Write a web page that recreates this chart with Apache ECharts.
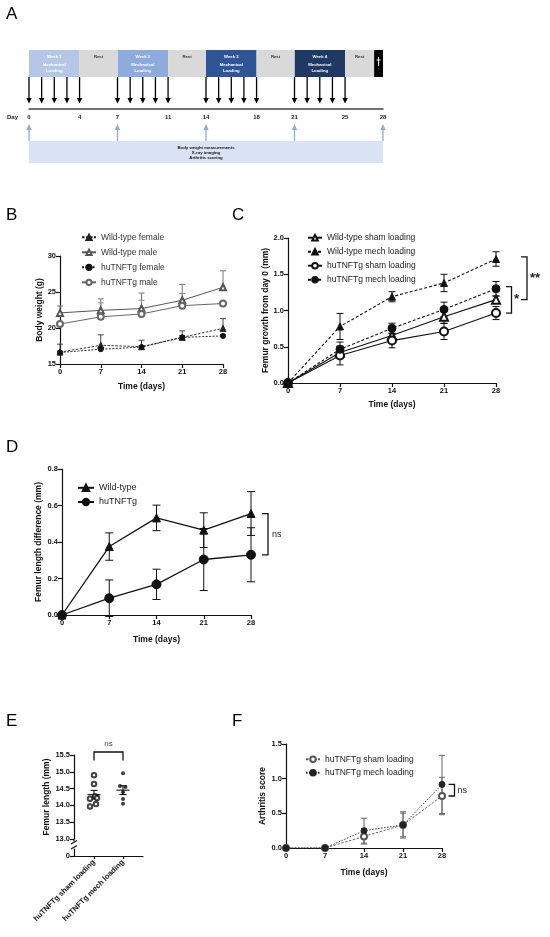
<!DOCTYPE html>
<html><head><meta charset="utf-8">
<script src="https://cdn.jsdelivr.net/npm/echarts@6/dist/echarts.min.js"></script>
<style>html,body{margin:0;padding:0;background:#fff}#c{width:550px;height:937px}</style>
</head><body><div id="c"></div>
<script>
// ---------- DATA ----------
const days = [0, 7, 14, 21, 28];

// Panel A: study schedule (days)
const weekLabels = ['Week 1', 'Week 2', 'Week 3', 'Week 4'];
const weekStart = [0, 7, 14, 21];
const weekEnd = [4, 11, 18, 25];
const restStart = [4, 11, 18, 25];
const restEnd = [7, 14, 21, 27.3];
const endpointSpan = [27.3, 28];
const loadingDays = [0, 1, 2, 3, 4, 7, 8, 9, 10, 11, 14, 15, 16, 17, 18, 21, 22, 23, 24, 25];
const measurementDays = [0, 7, 14, 21, 28];
const dayTicks = [0, 4, 7, 11, 14, 18, 21, 25, 28];
const measurementText = ['Body weight measurements', 'X-ray imaging', 'Arthritis scoring'];

// Panel B: body weight (g), mean and SEM
const bNames = ['Wild-type female', 'Wild-type male', 'huTNFTg female', 'huTNFTg male'];
const bWtFemale = [16.65, 17.6, 17.4, 18.7, 19.95];
const bWtFemaleSem = [1.1, 1.45, 0.9, 0.9, 1.35];
const bWtMale = [22.1, 22.45, 22.7, 23.85, 25.65];
const bWtMaleSem = [0.95, 1.6, 2.15, 2.2, 2.3];
const bTgFemale = [16.6, 17.05, 17.35, 18.7, 18.9];
const bTgFemaleSem = [0.2, 0.25, 0.2, 0.25, 0.2];
const bTgMale = [20.55, 21.55, 21.95, 23.1, 23.4];
const bTgMaleSem = [0.3, 1.95, 1.9, 1.7, 0.3];

// Panel C: femur growth from day 0 (mm)
const cNames = ['Wild-type sham loading', 'Wild-type mech loading', 'huTNFTg sham loading', 'huTNFTg mech loading'];
const cWtSham = [0, 0.42, 0.655, 0.915, 1.15];
const cWtShamSem = [0, 0.08, 0.07, 0.09, 0.05];
const cWtMech = [0, 0.78, 1.19, 1.38, 1.71];
const cWtMechSem = [0, 0.18, 0.07, 0.12, 0.1];
const cTgSham = [0, 0.38, 0.585, 0.71, 0.965];
const cTgShamSem = [0, 0.13, 0.1, 0.11, 0.09];
const cTgMech = [0, 0.465, 0.755, 1.015, 1.30];
const cTgMechSem = [0, 0.1, 0.07, 0.1, 0.1];

// Panel D: femur length difference (mm)
const dNames = ['Wild-type', 'huTNFTg'];
const dWt = [0, 0.375, 0.532, 0.465, 0.556];
const dWtSem = [0, 0.075, 0.07, 0.095, 0.12];
const dTg = [0, 0.092, 0.168, 0.304, 0.33];
const dTgSem = [0, 0.1, 0.083, 0.17, 0.148];

// Panel E: femur length (mm), individual animals
const eCategories = ['huTNFTg sham loading', 'huTNFTg mech loading'];
const eSham = [14.90, 14.64, 14.27, 14.20, 14.22, 13.97, 14.04];
const eMech = [14.96, 14.58, 14.55, 14.39, 14.19, 14.05];

// Panel F: arthritis score
const fNames = ['huTNFTg sham loading\u200B', 'huTNFTg mech loading\u200B'];
const fSham = [0, 0, 0.167, 0.333, 0.75];
const fShamSem = [0, 0, 0.11, 0.17, 0.27];
const fMech = [0, 0, 0.25, 0.333, 0.917];
const fMechSem = [0, 0, 0.18, 0.19, 0.42];

// ---------- STYLE / LAYOUT ----------
const FONT = '"Liberation Sans", Arial, Helvetica, sans-serif';
const weekColors = ['#b4c7e7', '#8faadc', '#2f5597', '#203864'];
const shamJitter = [0, 0, 1, -4, 3, -4, 2];
const mechJitter = [0, -3, 2.5, 0, 0, 0];

const chart = echarts.init(document.getElementById('c'), null, {renderer: 'canvas', width: 550, height: 937});

const axLine = {show: true, onZero: false, lineStyle: {color: '#111', width: 1.2}};
const axTick = {show: true, length: 4, lineStyle: {color: '#111', width: 1.2}};
const labStyle = {fontFamily: FONT, fontSize: 7.5, fontWeight: 'bold', color: '#111', margin: 4};
const nameStyle = {fontFamily: FONT, fontSize: 8.5, fontWeight: 'bold', color: '#111'};

function xTime(gridIndex, nameGap) {
  return {type: 'value', gridIndex, min: 0, max: 28, interval: 7, name: 'Time (days)', nameLocation: 'middle', nameGap,
    nameTextStyle: nameStyle, axisLine: axLine, axisTick: axTick, axisLabel: labStyle, splitLine: {show: false}};
}
function yVal(gridIndex, min, max, interval, name, nameGap, dec) {
  return {type: 'value', gridIndex, min, max, interval, name, nameLocation: 'middle', nameGap, nameRotate: 90,
    nameTextStyle: nameStyle, axisLine: axLine, axisTick: axTick,
    axisLabel: Object.assign({}, labStyle, {formatter: v => v.toFixed(dec)}), splitLine: {show: false}};
}
function pairs(vals) { return days.map((d, i) => [d, vals[i]]); }
function lineSeries(name, gi, vals, symbol, size, color, lineType, width) {
  return {type: 'line', name, xAxisIndex: gi, yAxisIndex: gi, data: pairs(vals), symbol, symbolSize: size,
    lineStyle: {color, width, type: lineType}, itemStyle: {color, borderColor: color, borderWidth: 1}, z: 4};
}
function errSeries(gi, vals, sems, color, upOnly, capW) {
  return {type: 'custom', xAxisIndex: gi, yAxisIndex: gi, z: 3,
    data: days.map((d, i) => [d, vals[i], sems[i]]), encode: {x: 0, y: 1},
    renderItem: (params, api) => {
      const x = api.value(0), m = api.value(1), s = api.value(2);
      if (!s) return null;
      const hi = api.coord([x, m + s]);
      const lo = api.coord([x, upOnly ? m : m - s]);
      const ch = [{type: 'line', shape: {x1: hi[0], y1: hi[1], x2: lo[0], y2: lo[1]}, style: {stroke: color, lineWidth: 1}},
        {type: 'line', shape: {x1: hi[0] - capW, y1: hi[1], x2: hi[0] + capW, y2: hi[1]}, style: {stroke: color, lineWidth: 1}}];
      if (!upOnly) ch.push({type: 'line', shape: {x1: lo[0] - capW, y1: lo[1], x2: lo[0] + capW, y2: lo[1]}, style: {stroke: color, lineWidth: 1}});
      return {type: 'group', children: ch};
    }};
}
function txt(text, x, y, size, color, weight, align) {
  return {type: 'text', style: {text, x, y, font: (weight || 'bold') + ' ' + size + 'px ' + FONT, fill: color, align: align || 'center', verticalAlign: 'middle'}};
}
function mean(a) { return a.reduce((s, v) => s + v, 0) / a.length; }
function sem(a) { const m = mean(a); return Math.sqrt(a.reduce((s, v) => s + (v - m) * (v - m), 0) / (a.length - 1)) / Math.sqrt(a.length); }
function legendCfg(data, left, top, itemWidth, itemHeight, itemGap, fontSize, color) {
  return {data, orient: 'vertical', left, top, padding: 0, itemWidth, itemHeight, itemGap, selectedMode: false,
    textStyle: {fontFamily: FONT, fontSize, color}};
}

// ---------- PANEL A series ----------
const aSeries = [
  {type: 'custom', xAxisIndex: 0, yAxisIndex: 0, data: weekStart.map((s, i) => [s, weekEnd[i]]), encode: {x: [0, 1]},
    renderItem: (params, api) => {
      const i = params.dataIndex, top = params.coordSys.y;
      const x0 = api.coord([api.value(0), 0])[0], x1 = api.coord([api.value(1), 0])[0], cx = (x0 + x1) / 2;
      return {type: 'group', children: [
        {type: 'rect', shape: {x: x0, y: top, width: x1 - x0, height: 27}, style: {fill: weekColors[i]}},
        txt(weekLabels[i], cx, top + 6.5, 4.3, '#fff'), txt('Mechanical', cx, top + 15, 4.3, '#fff'), txt('Loading', cx, top + 20.5, 4.3, '#fff')]};
    }},
  {type: 'custom', xAxisIndex: 0, yAxisIndex: 0, data: restStart.map((s, i) => [s, restEnd[i]]), encode: {x: [0, 1]},
    renderItem: (params, api) => {
      const top = params.coordSys.y;
      const x0 = api.coord([api.value(0), 0])[0], x1 = api.coord([api.value(1), 0])[0];
      return {type: 'group', children: [
        {type: 'rect', shape: {x: x0, y: top, width: x1 - x0, height: 27}, style: {fill: '#d9d9d9'}},
        txt('Rest', (x0 + x1) / 2, top + 6.5, 4.3, '#333')]};
    }},
  {type: 'custom', xAxisIndex: 0, yAxisIndex: 0, data: [endpointSpan], encode: {x: [0, 1]},
    renderItem: (params, api) => {
      const top = params.coordSys.y;
      const x0 = api.coord([api.value(0), 0])[0], x1 = api.coord([api.value(1), 0])[0], cx = (x0 + x1) / 2;
      return {type: 'group', children: [
        {type: 'rect', shape: {x: x0, y: top, width: x1 - x0, height: 27}, style: {fill: '#000'}},
        {type: 'line', shape: {x1: cx, y1: top + 7, x2: cx, y2: top + 16}, style: {stroke: '#fff', lineWidth: 1}},
        {type: 'line', shape: {x1: cx - 2, y1: top + 10, x2: cx + 2, y2: top + 10}, style: {stroke: '#fff', lineWidth: 1}}]};
    }},
  {type: 'custom', xAxisIndex: 0, yAxisIndex: 0, data: loadingDays.map(d => [d, 0]), encode: {x: 0, y: 1},
    renderItem: (params, api) => {
      const top = params.coordSys.y, x = api.coord([api.value(0), 0])[0];
      return {type: 'group', children: [
        {type: 'line', shape: {x1: x, y1: top + 27, x2: x, y2: top + 49}, style: {stroke: '#000', lineWidth: 1.3}},
        {type: 'polygon', shape: {points: [[x - 2.7, top + 48], [x + 2.7, top + 48], [x, top + 53.5]]}, style: {fill: '#000'}}]};
    }},
  {type: 'custom', xAxisIndex: 0, yAxisIndex: 0, data: measurementDays.map(d => [d, 0]), encode: {x: 0, y: 1},
    renderItem: (params, api) => {
      const top = params.coordSys.y, x = api.coord([api.value(0), 0])[0];
      return {type: 'group', children: [
        {type: 'line', shape: {x1: x, y1: top + 91, x2: x, y2: top + 78}, style: {stroke: '#8faadc', lineWidth: 1.3}},
        {type: 'polygon', shape: {points: [[x - 2.7, top + 80], [x + 2.7, top + 80], [x, top + 74]]}, style: {fill: '#8faadc'}}]};
    }},
  {type: 'custom', xAxisIndex: 0, yAxisIndex: 0, data: [[measurementDays[0], measurementDays[measurementDays.length - 1]]], encode: {x: [0, 1]},
    renderItem: (params, api) => {
      const top = params.coordSys.y;
      const x0 = api.coord([api.value(0), 0])[0], x1 = api.coord([api.value(1), 0])[0], cx = (x0 + x1) / 2;
      const ch = [{type: 'rect', shape: {x: x0, y: top + 91, width: x1 - x0, height: 22}, style: {fill: '#dae3f3'}}];
      measurementText.forEach((t, k) => ch.push(txt(t, cx, top + 97.5 + k * 5, 4.3, '#111')));
      return {type: 'group', children: ch};
    }}
];

// ---------- PANEL E ----------
const eMeans = [[1, mean(eSham), sem(eSham)], [2, mean(eMech), sem(eMech)]];

const option = {
  animation: false,
  backgroundColor: '#fff',
  grid: [
    {left: 29, top: 50, width: 354, height: 59},          // A
    {left: 60, top: 256, width: 163, height: 108},        // B
    {left: 288, top: 238, width: 208, height: 145},       // C
    {left: 62, top: 469, width: 189, height: 146},        // D
    {left: 74, top: 755, width: 69, height: 84},          // E upper
    {left: 74, top: 849, width: 69, height: 7},           // E lower
    {left: 286, top: 744, width: 156, height: 104}        // F
  ],
  xAxis: [
    {type: 'value', gridIndex: 0, min: 0, max: 28, axisLine: {show: true, onZero: false, lineStyle: {color: '#444', width: 1.5}},
      axisTick: {show: false}, splitLine: {show: false},
      axisLabel: {customValues: dayTicks, fontFamily: FONT, fontSize: 6, fontWeight: 'bold', color: '#222', margin: 5}},
    xTime(1, 18),
    xTime(2, 17),
    xTime(3, 20),
    {type: 'value', gridIndex: 4, min: 0.31, max: 2.69, show: false},
    {type: 'value', gridIndex: 5, min: 0.31, max: 2.69, axisLine: axLine, splitLine: {show: false},
      axisTick: {show: true, length: 3, customValues: [1, 2], lineStyle: {color: '#111', width: 1.2}},
      axisLabel: Object.assign({}, labStyle, {customValues: [1, 2], rotate: 45, margin: 5, formatter: v => eCategories[Math.round(v) - 1] || ''})},
    xTime(6, 20)
  ],
  yAxis: [
    {type: 'value', gridIndex: 0, min: 0, max: 100, show: false},
    yVal(1, 15, 30, 5, 'Body weight (g)', 16, 0),
    yVal(2, 0, 2, 0.5, 'Femur growth from day 0 (mm)', 18, 1),
    yVal(3, 0, 0.8, 0.2, 'Femur length difference (mm)', 19, 1),
    yVal(4, 13, 15.5, 0.5, 'Femur length (mm)', 23, 1),
    {type: 'value', gridIndex: 5, min: 0, max: 1, axisLine: axLine, splitLine: {show: false},
      axisTick: {show: true, length: 4, customValues: [0], lineStyle: {color: '#111', width: 1.2}},
      axisLabel: Object.assign({}, labStyle, {customValues: [0]})},
    yVal(6, 0, 1.5, 0.5, 'Arthritis score', 19, 1)
  ],
  legend: [
    legendCfg(bNames, 81, 232.8, 14, 6.5, 6, 8.5, '#333'),
    legendCfg(cNames, 307, 233.2, 14, 7, 5, 8.5, '#222'),
    legendCfg(dNames, 77, 483.3, 16, 8, 5.2, 9, '#222'),
    legendCfg(fNames, 305, 754.8, 14, 7, 4.4, 8.5, '#222')
  ],
  series: [
    ...aSeries,
    // B
    errSeries(1, bWtFemale, bWtFemaleSem, '#444', true, 3),
    errSeries(1, bWtMale, bWtMaleSem, '#777', true, 3),
    errSeries(1, bTgFemale, bTgFemaleSem, '#444', true, 3),
    errSeries(1, bTgMale, bTgMaleSem, '#888', true, 3),
    lineSeries(bNames[0], 1, bWtFemale, 'triangle', 6, '#222', [2.5, 1.5], 0.9),
    lineSeries(bNames[1], 1, bWtMale, 'emptyTriangle', 6, '#555', 'solid', 1),
    lineSeries(bNames[2], 1, bTgFemale, 'circle', 5, '#111', [2, 1.5], 0.9),
    lineSeries(bNames[3], 1, bTgMale, 'emptyCircle', 6, '#666', 'solid', 1),
    // C
    errSeries(2, cWtSham, cWtShamSem, '#111', false, 3.5),
    errSeries(2, cWtMech, cWtMechSem, '#111', false, 3.5),
    errSeries(2, cTgSham, cTgShamSem, '#111', false, 3.5),
    errSeries(2, cTgMech, cTgMechSem, '#111', false, 3.5),
    lineSeries(cNames[0], 2, cWtSham, 'emptyTriangle', 8, '#111', 'solid', 1.1),
    lineSeries(cNames[1], 2, cWtMech, 'triangle', 7, '#111', [3, 2], 1.1),
    lineSeries(cNames[2], 2, cTgSham, 'emptyCircle', 8, '#111', 'solid', 1.1),
    lineSeries(cNames[3], 2, cTgMech, 'circle', 8, '#111', [3, 2], 1.1),
    // D
    errSeries(3, dWt, dWtSem, '#111', false, 4),
    errSeries(3, dTg, dTgSem, '#111', false, 4),
    lineSeries(dNames[0], 3, dWt, 'triangle', 8, '#111', 'solid', 1.3),
    lineSeries(dNames[1], 3, dTg, 'circle', 9, '#111', 'solid', 1.3),
    // E
    {type: 'scatter', xAxisIndex: 4, yAxisIndex: 4, z: 4, symbol: 'emptyCircle', symbolSize: 4.5,
      itemStyle: {color: '#111', borderWidth: 1},
      data: eSham.map((v, i) => ({value: [1, v], symbolOffset: [shamJitter[i], 0]}))},
    {type: 'scatter', xAxisIndex: 4, yAxisIndex: 4, z: 4, symbol: 'circle', symbolSize: 4,
      itemStyle: {color: '#111'},
      data: eMech.map((v, i) => ({value: [2, v], symbolOffset: [mechJitter[i], 0]}))},
    {type: 'custom', xAxisIndex: 4, yAxisIndex: 4, z: 3, data: eMeans, encode: {x: 0, y: 1},
      renderItem: (params, api) => {
        const x = api.value(0), m = api.value(1), s = api.value(2);
        const p = api.coord([x, m]), hi = api.coord([x, m + s]), lo = api.coord([x, m - s]);
        const st = {stroke: '#111', lineWidth: 1.1};
        return {type: 'group', children: [
          {type: 'line', shape: {x1: p[0] - 6.5, y1: p[1], x2: p[0] + 6.5, y2: p[1]}, style: st},
          {type: 'line', shape: {x1: hi[0], y1: hi[1], x2: lo[0], y2: lo[1]}, style: st},
          {type: 'line', shape: {x1: hi[0] - 3.5, y1: hi[1], x2: hi[0] + 3.5, y2: hi[1]}, style: st},
          {type: 'line', shape: {x1: lo[0] - 3.5, y1: lo[1], x2: lo[0] + 3.5, y2: lo[1]}, style: st}]};
      }},
    // F
    errSeries(6, fSham, fShamSem, '#666', false, 3),
    errSeries(6, fMech, fMechSem, '#666', false, 3),
    lineSeries(fNames[0], 6, fSham, 'emptyCircle', 6, '#555', [2.5, 1.5], 0.9),
    lineSeries(fNames[1], 6, fMech, 'circle', 6, '#222', [1.5, 1.5], 0.9)
  ]
};
chart.setOption(option);

// ---------- annotations (letters, brackets, axis break) ----------
const px = (gi, pt) => chart.convertToPixel({gridIndex: gi}, pt);
const g = [];
const letter = (t, x, y) => g.push({type: 'text', x, y, style: {text: t, font: '17px ' + FONT, fill: '#000', verticalAlign: 'middle'}});
letter('A', 6, 14.5); letter('B', 6, 215); letter('C', 232, 215);
letter('D', 6, 447.5); letter('E', 6, 721.5); letter('F', 232, 721.5);
g.push({type: 'text', x: 7, y: 117, style: {text: 'Day', font: 'bold 6px ' + FONT, fill: '#222', verticalAlign: 'middle'}});

function vBracket(gi, vTop, vBot, dxTick, dxLine, label, labelFont, dxLabel) {
  const a = px(gi, [28, vTop]), b = px(gi, [28, vBot]);
  g.push({type: 'polyline', shape: {points: [[a[0] + dxTick, a[1]], [a[0] + dxLine, a[1]], [a[0] + dxLine, b[1]], [a[0] + dxTick, b[1]]]},
    style: {stroke: '#111', lineWidth: 1.3, fill: null}});
  g.push({type: 'text', x: a[0] + dxLabel, y: (a[1] + b[1]) / 2, style: {text: label, font: labelFont, fill: '#222', verticalAlign: 'middle'}});
}
vBracket(2, cWtMech[4] + 0.03, cWtSham[4], 25, 31, '**', 'bold 13px ' + FONT, 34);
vBracket(2, cTgMech[4] + 0.03, cTgSham[4], 10, 15.5, '*', 'bold 13px ' + FONT, 18);
vBracket(3, dWt[4], dTg[4], 11, 17, 'ns', '9px ' + FONT, 21);
vBracket(6, fMech[4], fSham[4], 6.5, 12.5, 'ns', '9px ' + FONT, 15.5);

// E bracket
const e1 = px(4, [1, 15.5]), e2 = px(4, [2, 15.5]);
const eyT = e1[1] - 3, eyB = eyT + 8.5;
g.push({type: 'polyline', shape: {points: [[e1[0], eyB], [e1[0], eyT], [e2[0], eyT], [e2[0], eyB]]}, style: {stroke: '#111', lineWidth: 1.3, fill: null}});
g.push({type: 'text', x: (e1[0] + e2[0]) / 2, y: eyT - 8, style: {text: 'ns', font: '8px ' + FONT, fill: '#444', align: 'center', verticalAlign: 'middle'}});

// E axis break marks
const eb = px(4, [0.31, 13]);
g.push({type: 'line', shape: {x1: eb[0], y1: eb[1], x2: eb[0], y2: eb[1] + 2.5}, style: {stroke: '#111', lineWidth: 1.2}});
g.push({type: 'line', shape: {x1: eb[0] - 3, y1: eb[1] + 5, x2: eb[0] + 3, y2: eb[1] + 1.5}, style: {stroke: '#111', lineWidth: 1.2}});
g.push({type: 'line', shape: {x1: eb[0] - 3, y1: eb[1] + 10, x2: eb[0] + 3, y2: eb[1] + 6.5}, style: {stroke: '#111', lineWidth: 1.2}});

chart.setOption({graphic: g});
</script></body></html>
